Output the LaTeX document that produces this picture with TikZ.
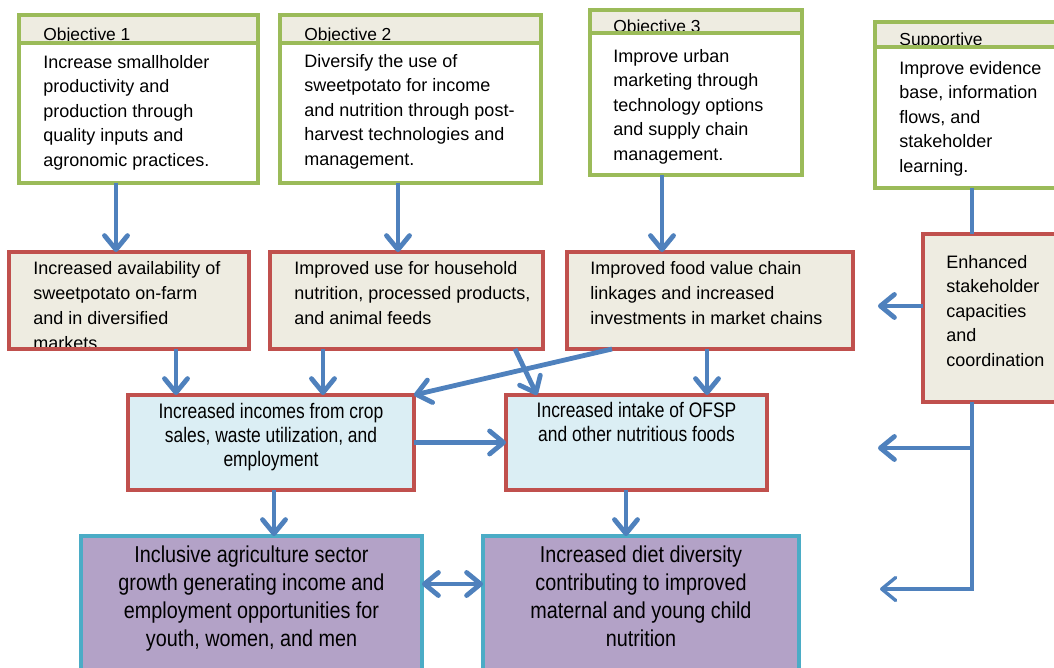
\documentclass[tikz,border=0pt]{standalone}
\usepackage{fontspec}
\setmainfont{Liberation Sans}
\newfontfamily\narrowsans[FakeStretch=0.83]{Liberation Sans}
\newfontfamily\goalsans[FakeStretch=0.86]{Liberation Sans}
\usetikzlibrary{arrows.meta}

\definecolor{objgreen}{HTML}{9BBB59}
\definecolor{outred}{HTML}{C0504D}
\definecolor{paper}{HTML}{EEECE1}
\definecolor{incblue}{HTML}{DBEEF4}
\definecolor{goalpurple}{HTML}{B3A2C7}
\definecolor{goalcyan}{HTML}{4BACC6}
\definecolor{flowblue}{HTML}{4F81BD}

\def \px {0.5pt}

\tikzset{flowtip/.tip={Straight Barb[length=7pt, width=11.5pt, round]}}
\tikzset{boxsize/.style 2 args={minimum width=#1*\px, minimum height=#2*\px}}
\tikzstyle{box}=[rectangle, inner sep=0pt, outer sep=0pt, line width=2pt, anchor=north west]
\tikzstyle{objhead}=[box, draw=objgreen, fill=paper]
\tikzstyle{objbox}=[box, draw=objgreen, fill=white]
\tikzstyle{outbox}=[box, draw=outred, fill=paper]
\tikzstyle{incbox}=[box, draw=outred, fill=incblue]
\tikzstyle{goalbox}=[box, draw=goalcyan, fill=goalpurple]
\tikzstyle{headtext}=[anchor=base west, inner sep=0pt, font=\fontsize{8.7}{10}\selectfont]
\tikzstyle{bodytext}=[anchor=north west, inner sep=0pt, align=left, font=\fontsize{9}{12.25}\selectfont]
\tikzstyle{outtext}=[bodytext, font=\fontsize{9}{12.5}\selectfont]
\tikzstyle{inctext}=[anchor=north, inner sep=0pt, align=center, font=\narrowsans\fontsize{10.5}{12}\selectfont]
\tikzstyle{goaltext}=[anchor=north, inner sep=0pt, align=center, font=\goalsans\fontsize{11.5}{14}\selectfont]
\tikzstyle{flow}=[draw=flowblue, line width=2.4pt, -{flowtip}]
\tikzstyle{fbline}=[draw=flowblue, line width=1.7pt]

\begin{document}
\begin{tikzpicture}[x=0.5pt, y=-0.5pt]
\useasboundingbox (0,0) rectangle (1054,668);

% objectives
\node[objhead, boxsize={239}{28}] (obj1head) at (19,15) {};
\node[headtext] (obj1lbl) at ([shift={(24,25.5)}]obj1head.north west) {Objective 1};
\node[objbox, boxsize={239}{140}] (obj1) at (19,43) {};
\node[bodytext] (obj1txt) at ([shift={(24,12)}]obj1.north west)
    {Increase smallholder\\productivity and\\production through\\quality inputs and\\agronomic practices.};

\node[objhead, boxsize={261}{28}] (obj2head) at (280,15) {};
\node[headtext] (obj2lbl) at ([shift={(24,25.5)}]obj2head.north west) {Objective 2};
\node[objbox, boxsize={261}{140}] (obj2) at (280,43) {};
\node[bodytext] (obj2txt) at ([shift={(24,11)}]obj2.north west)
    {Diversify the use of\\sweetpotato for income\\and nutrition through post-\\harvest technologies and\\management.};

\node[objhead, boxsize={212}{23}] (obj3head) at (590,10) {};
\node[headtext] (obj3lbl) at ([shift={(23,22.5)}]obj3head.north west) {Objective 3};
\node[objbox, boxsize={212}{142}] (obj3) at (590,33) {};
\node[bodytext] (obj3txt) at ([shift={(23,16)}]obj3.north west)
    {Improve urban\\marketing through\\technology options\\and supply chain\\management.};

\node[objhead, boxsize={220}{25}] (supphead) at (875,22) {};
\node[headtext] (supplbl) at ([shift={(24,24)}]supphead.north west) {Supportive};
\node[objbox, boxsize={220}{141}] (supp) at (875,47) {};
\node[bodytext] (supptxt) at ([shift={(24,14)}]supp.north west)
    {Improve evidence\\base, information\\flows, and\\stakeholder\\learning.};

% outputs
\node[outbox, boxsize={240}{97}] (avail) at (9,252) {};
\node[outtext] (availtxt) at ([shift={(24,9)}]avail.north west)
    {Increased availability of\\sweetpotato on-farm\\and in diversified\\markets};
\draw[outred, line width=2pt] (avail.south west) -- (avail.south east);

\node[outbox, boxsize={273}{97}] (use) at (270,252) {};
\node[outtext] (usetxt) at ([shift={(24,9)}]use.north west)
    {Improved use for household\\nutrition, processed products,\\and animal feeds};

\node[outbox, boxsize={286}{97}] (chain) at (567,252) {};
\node[outtext] (chaintxt) at ([shift={(23,9)}]chain.north west)
    {Improved food value chain\\linkages and increased\\investments in market chains};

\node[outbox, boxsize={160}{168}] (capac) at (923,234) {};
\node[bodytext] (capactxt) at ([shift={(23,21)}]capac.north west)
    {Enhanced\\stakeholder\\capacities\\and\\coordination};

% outcomes
\node[incbox, boxsize={286}{95}] (income) at (128,395) {};
\node[inctext] (incometxt) at ([shift={(0,8)}]income.north)
    {Increased incomes from crop\\sales, waste utilization, and\\employment};

\node[incbox, boxsize={261}{95}] (intake) at (506,395) {};
\node[inctext] (intaketxt) at ([shift={(0,7)}]intake.north)
    {Increased intake of OFSP\\and other nutritious foods};

% goals
\node[goalbox, boxsize={341}{160}] (growth) at (81,536) {};
\node[goaltext] (growthtxt) at ([shift={(0,9.5)}]growth.north)
    {Inclusive agriculture sector\\growth generating income and\\employment opportunities for\\youth, women, and men};

\node[goalbox, boxsize={316}{160}] (diet) at (483,536) {};
\node[goaltext] (diettxt) at ([shift={(0,9.5)}]diet.north)
    {Increased diet diversity\\contributing to improved\\maternal and young child\\nutrition};

% where the connectors leave and meet the boxes
\coordinate (tap1) at (116,0);
\coordinate (tap2) at (398,0);
\coordinate (tap3) at (662,0);
\coordinate (tap4) at (972,0);
\coordinate (tap5) at (176,0);
\coordinate (tap6) at (323,0);
\coordinate (tap7) at (707,0);
\coordinate (tap8) at (274,0);
\coordinate (tap9) at (626,0);
\coordinate (crossa) at (515,0);
\coordinate (crossb) at (537,0);
\coordinate (crossc) at (612,0);
\coordinate (goalrow) at (0,584);
\coordinate (fb1) at (878,306);
\coordinate (fb2) at (878,448);
\coordinate (fb3) at (880,589);

\draw[flow] (obj1.south -| tap1) -- (avail.north -| tap1);
\draw[flow] (obj2.south -| tap2) -- (use.north -| tap2);
\draw[flow] (obj3.south -| tap3) -- (chain.north -| tap3);
\draw[fbline, line width=2.2pt] (supp.south -| tap4) -- (capac.north -| tap4);

\draw[flow] (avail.south -| tap5) -- (income.north -| tap5);
\draw[flow] (use.south -| tap6) -- (income.north -| tap6);
\draw[flow] (use.south -| crossa) -- (intake.north -| crossb);
\draw[flow] (chain.south -| crossc) -- (income.north east);
\draw[flow] (chain.south -| tap7) -- (intake.north -| tap7);
\draw[flow] (capac.west |- fb1) -- (fb1);

\draw[flow] (income.east) -- (intake.west);
\draw[flow] (income.south -| tap8) -- (growth.north -| tap8);
\draw[flow] (intake.south -| tap9) -- (diet.north -| tap9);
\draw[flow, {flowtip}-{flowtip}] (growth.east |- goalrow) -- (diet.west |- goalrow);

\draw[fbline, -{flowtip}] (capac.south -| tap4) |- (fb3);
\draw[flow] (fb2 -| tap4) -- (fb2);

\end{tikzpicture}
\end{document}
